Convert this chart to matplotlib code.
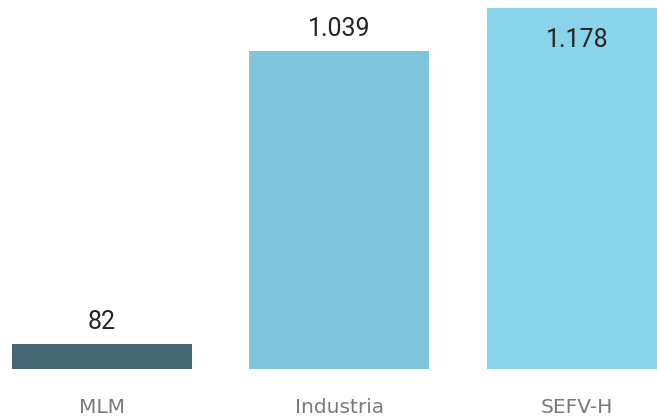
import matplotlib.pyplot as plt

categories = ["MLM", "Industria", "SEFV-H"]
values = [82, 1039, 1178]
bar_colors = ["#456672", "#7fc5db", "#89d4eb"]

def fmt(v):
    return f"{v:,}".replace(",", ".")

fig = plt.figure(figsize=(6.57, 4.18), dpi=100)
ax = fig.add_axes([0, 49 / 418, 1, 369 / 418])

x = list(range(len(categories)))
ax.bar(x, values, width=0.758, color=bar_colors)

ax.set_xlim(-0.4295, 2.337)
ax.set_ylim(0, 1205.6)
ax.axis("off")

px = 72 / 100  # points per pixel
for xi, v in zip(x, values):
    # the tallest bar carries its label inside, near the top
    dy = -39 * px if v > 1100 else 15 * px
    ax.annotate(fmt(v), (xi, v), xytext=(0, dy), textcoords="offset points",
                ha="center", va="baseline", fontsize=18, color="#252423",
                family="Roboto")
    ax.annotate(categories[xi], (xi, 0), xytext=(0, -44 * px), textcoords="offset points",
                ha="center", va="baseline", fontsize=14.5, color="#7a7a7a",
                family="DejaVu Sans")

fig.savefig("out.png", dpi=100)
